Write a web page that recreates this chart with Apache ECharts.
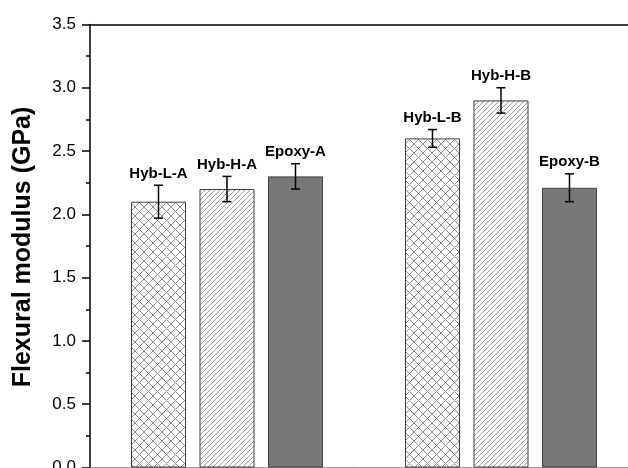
<!DOCTYPE html>
<html>
<head>
<meta charset="utf-8">
<script src="https://cdn.jsdelivr.net/npm/echarts@6/dist/echarts.min.js"></script>
<style>
html,body{margin:0;padding:0;background:#fff;}
#chart{width:628px;height:468px;}
</style>
</head>
<body>
<div id="chart"></div>
<script>
// Category slots (blank slots separate the A and B groups)
const categories = ['', 'Hyb-L-A', 'Hyb-H-A', 'Epoxy-A', '', 'Hyb-L-B', 'Hyb-H-B', 'Epoxy-B', ''];
const modulus = [null, 2.10, 2.20, 2.30, null, 2.60, 2.90, 2.21, null];
const errors  = [null, 0.13, 0.10, 0.10, null, 0.07, 0.10, 0.11, null];
const yTicks = ['0.0', '0.5', '1.0', '1.5', '2.0', '2.5', '3.0', '3.5'];
const yTitle = 'Flexural modulus (GPa)';

function crossPattern() {
  const s = 9, c = document.createElement('canvas');
  c.width = c.height = s;
  const g = c.getContext('2d');
  g.fillStyle = '#fff'; g.fillRect(0, 0, s, s);
  g.strokeStyle = '#8c8c8c'; g.lineWidth = 1;
  g.beginPath();
  g.moveTo(0, 0); g.lineTo(s, s);
  g.moveTo(s, 0); g.lineTo(0, s);
  g.stroke();
  return c;
}
function diagPattern() {
  const s = 5, c = document.createElement('canvas');
  c.width = c.height = s;
  const g = c.getContext('2d');
  g.fillStyle = '#fff'; g.fillRect(0, 0, s, s);
  g.strokeStyle = '#9a9a9a'; g.lineWidth = 1;
  g.beginPath();
  g.moveTo(0, s); g.lineTo(s, 0);
  g.moveTo(-1, 1); g.lineTo(1, -1);
  g.moveTo(s - 1, s + 1); g.lineTo(s + 1, s - 1);
  g.stroke();
  return c;
}
const crossImg = crossPattern();
const diagImg = diagPattern();

function styleFor(name) {
  if (name.indexOf('Hyb-L') === 0) return { color: { image: crossImg, repeat: 'repeat' }, borderColor: '#3c3c3c', borderWidth: 1 };
  if (name.indexOf('Hyb-H') === 0) return { color: { image: diagImg, repeat: 'repeat' }, borderColor: '#3c3c3c', borderWidth: 1 };
  return { color: '#787878', borderColor: '#404040', borderWidth: 1 };
}

const barData = categories.map((c, i) => modulus[i] == null ? '-' : { value: modulus[i], itemStyle: styleFor(c) });
const errData = [];
categories.forEach((c, i) => { if (modulus[i] != null) errData.push([i, modulus[i], errors[i]]); });

const chart = echarts.init(document.getElementById('chart'), null, { renderer: 'canvas' });
const FONT = 'Liberation Sans, Arial, sans-serif';

chart.setOption({
  animation: false,
  backgroundColor: '#fff',
  grid: { left: 90, top: 24.5, bottom: 0.5, width: 548, containLabel: false, outerBoundsMode: 'none' },
  xAxis: [
    {
      type: 'category', data: categories, boundaryGap: false,
      axisLine: { show: true, lineStyle: { color: '#9a9a9a', width: 1 } },
      axisTick: { show: false }, axisLabel: { show: false }, splitLine: { show: false }
    },
    {
      type: 'category', data: categories, boundaryGap: false, position: 'top',
      axisLine: { show: true, lineStyle: { color: '#000', width: 1.5 } },
      axisTick: { show: false }, axisLabel: { show: false }, splitLine: { show: false }
    }
  ],
  yAxis: {
    type: 'value', min: 0, max: 3.5, interval: 0.5,
    axisLine: { show: true, lineStyle: { color: '#000', width: 1.5 } },
    axisTick: { show: true, inside: false, length: 8, lineStyle: { color: '#000', width: 1.5 } },
    minorTick: { show: true, splitNumber: 2, length: 4, lineStyle: { color: '#000', width: 1.5 } },
    splitLine: { show: false },
    axisLabel: {
      margin: 14, color: '#000', fontSize: 17, fontFamily: FONT,
      formatter: (v) => yTicks[Math.round(v / 0.5)]
    }
  },
  graphic: [{
    type: 'text', x: 23, y: 247, rotation: Math.PI / 2,
    style: { text: yTitle, font: 'bold 25px ' + FONT, fill: '#000', align: 'center', verticalAlign: 'middle' }
  }],
  series: [
    {
      type: 'bar', data: barData, barWidth: 55, z: 2
    },
    {
      type: 'custom', z: 5, data: errData,
      renderItem: function (params, api) {
        const x = api.value(0), v = api.value(1), e = api.value(2);
        const top = api.coord([x, v + e]);
        const bot = api.coord([x, v - e]);
        const hw = 4.5;
        const ls = { stroke: '#000', lineWidth: 1.5 };
        return {
          type: 'group',
          children: [
            { type: 'line', shape: { x1: top[0], y1: top[1], x2: bot[0], y2: bot[1] }, style: ls },
            { type: 'line', shape: { x1: top[0] - hw, y1: top[1], x2: top[0] + hw, y2: top[1] }, style: ls },
            { type: 'line', shape: { x1: bot[0] - hw, y1: bot[1], x2: bot[0] + hw, y2: bot[1] }, style: ls },
            { type: 'text', x: top[0], y: top[1] - 4,
              style: { text: categories[x], font: 'bold 15px ' + FONT, fill: '#000', align: 'center', verticalAlign: 'bottom' } }
          ]
        };
      }
    }
  ]
});
</script>
</body>
</html>
